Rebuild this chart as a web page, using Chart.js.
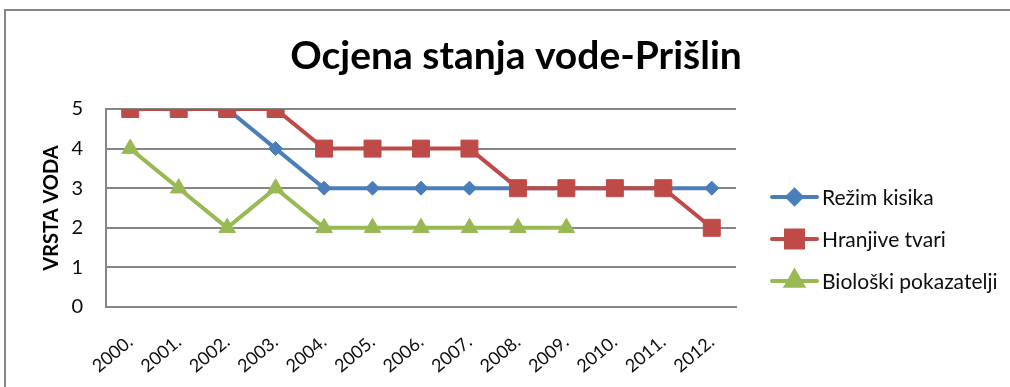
<!DOCTYPE html>
<html>
<head>
<meta charset="utf-8">
<title>Ocjena stanja vode-Prišlin</title>
<script src="https://cdn.jsdelivr.net/npm/chart.js@4.4.1/dist/chart.umd.min.js"></script>
<style>
  html, body { margin: 0; padding: 0; background: #ffffff; }
  #wrap { width: 1010px; height: 387px; position: relative; }
  canvas { display: block; }
</style>
</head>
<body>
<div id="wrap"><canvas id="chart" width="1010" height="387"></canvas></div>
<script>
// Years on the horizontal axis
const categories = ['2000.', '2001.', '2002.', '2003.', '2004.', '2005.', '2006.',
                    '2007.', '2008.', '2009.', '2010.', '2011.', '2012.'];

// Water class per indicator and year
const rezimKisika = [5, 5, 5, 4, 3, 3, 3, 3, 3, 3, 3, 3, 3];
const hranjiveTvari = [5, 5, 5, 5, 4, 4, 4, 4, 3, 3, 3, 3, 2];
const bioloskiPokazatelji = [4, 3, 2, 3, 2, 2, 2, 2, 2, 2, null, null, null];

// Series names
const seriesNames = ['Režim kisika', 'Hranjive tvari', 'Biološki pokazatelji'];

// Value axis ticks
const yTicks = [0, 1, 2, 3, 4, 5];

const chartTitle = 'Ocjena stanja vode-Prišlin';
const yAxisTitle = 'VRSTA VODA';

const FONT = 'Lato, "Open Sans", "Liberation Sans", sans-serif';
const GRID = '#868686';
const TEXT = '#0d0d0d';

const seriesStyles = [
  { color: '#4A7EBB', pointStyle: 'rectRot', radius: 7 },
  { color: '#BE4B48', pointStyle: 'rect', radius: 12 },
  { color: '#98B954', pointStyle: 'triangle', radius: 9.5 }
];

// Outer frame and chart title
const framePlugin = {
  id: 'frame',
  beforeDraw(chart) {
    const ctx = chart.ctx;
    ctx.save();
    ctx.fillStyle = '#ffffff';
    ctx.fillRect(0, 0, chart.width, chart.height);
    ctx.strokeStyle = GRID;
    ctx.lineWidth = 2;
    ctx.strokeRect(5, 10, chart.width + 20, chart.height + 20);
    ctx.restore();
  },
  afterDraw(chart) {
    const ctx = chart.ctx;
    ctx.save();
    ctx.fillStyle = '#000000';
    ctx.font = 'bold 39px ' + FONT;
    ctx.textAlign = 'center';
    ctx.textBaseline = 'alphabetic';
    ctx.fillText(chartTitle, 516, 69);
    ctx.restore();
  }
};

// Legend with a line sample and marker for each series
const lineLegendPlugin = {
  id: 'lineLegend',
  afterDraw(chart) {
    const ctx = chart.ctx;
    const rows = [197, 239, 281];
    chart.data.datasets.forEach((ds, i) => {
      const y = rows[i];
      const st = seriesStyles[i];
      ctx.save();
      ctx.strokeStyle = st.color;
      ctx.lineWidth = 4;
      ctx.lineCap = 'round';
      ctx.beginPath();
      ctx.moveTo(772, y);
      ctx.lineTo(817, y);
      ctx.stroke();
      ctx.fillStyle = st.color;
      ctx.strokeStyle = st.color;
      Chart.helpers.drawPoint(ctx, {
        pointStyle: st.pointStyle,
        radius: st.radius,
        rotation: 0,
        borderWidth: 1
      }, 794.5, y);
      ctx.fillStyle = TEXT;
      ctx.font = '21px ' + FONT;
      ctx.textAlign = 'left';
      ctx.textBaseline = 'middle';
      ctx.fillText(ds.label, 822, y + 1);
      ctx.restore();
    });
  }
};

function makeDataset(label, values, idx, order) {
  const st = seriesStyles[idx];
  return {
    label: label,
    data: values,
    borderColor: st.color,
    backgroundColor: st.color,
    borderWidth: 4,
    pointStyle: st.pointStyle,
    pointRadius: st.radius,
    pointHoverRadius: st.radius,
    pointBackgroundColor: st.color,
    pointBorderColor: st.color,
    pointBorderWidth: 1,
    tension: 0,
    spanGaps: false,
    order: order
  };
}

new Chart(document.getElementById('chart'), {
  type: 'line',
  data: {
    labels: categories,
    datasets: [
      makeDataset(seriesNames[0], rezimKisika, 0, 3),
      makeDataset(seriesNames[1], hranjiveTvari, 1, 2),
      makeDataset(seriesNames[2], bioloskiPokazatelji, 2, 1)
    ]
  },
  options: {
    responsive: false,
    animation: false,
    devicePixelRatio: 1,
    layout: { padding: { top: 109, right: 274, bottom: 0, left: 0 } },
    plugins: {
      legend: { display: false },
      title: { display: false },
      tooltip: { enabled: false }
    },
    scales: {
      x: {
        type: 'category',
        offset: true,
        grid: { display: false, drawTicks: false },
        border: { display: true, color: GRID, width: 2 },
        ticks: {
          autoSkip: false,
          minRotation: 40,
          maxRotation: 40,
          padding: 24,
          color: TEXT,
          font: { family: FONT, size: 18 }
        },
        afterFit(scale) { scale.height = 80; }
      },
      y: {
        min: 0,
        max: 5,
        afterBuildTicks(scale) { scale.ticks = yTicks.map(v => ({ value: v })); },
        grid: { color: GRID, lineWidth: 2, drawTicks: false },
        border: { display: true, color: GRID, width: 2 },
        ticks: {
          padding: 23,
          color: TEXT,
          font: { family: FONT, size: 20 }
        },
        title: {
          display: true,
          text: yAxisTitle,
          color: '#000000',
          font: { family: FONT, size: 20, weight: 'bold' },
          padding: { top: 40, bottom: 0 }
        },
        afterFit(scale) { scale.width = 106; }
      }
    }
  },
  plugins: [framePlugin, lineLegendPlugin]
});
</script>
</body>
</html>
